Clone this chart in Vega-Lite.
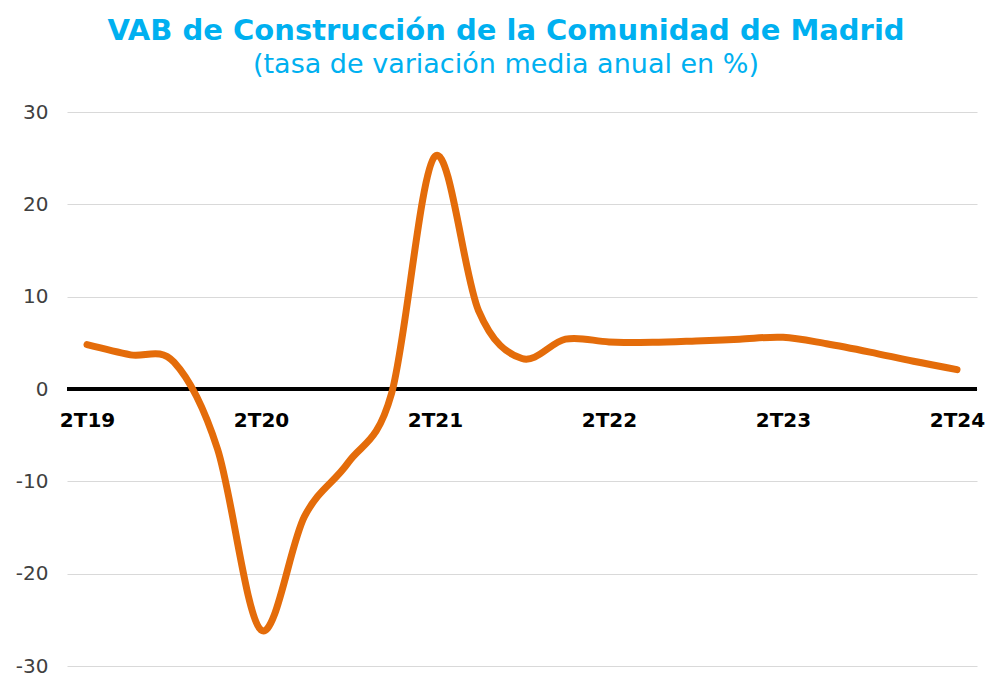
{
  "$schema": "https://vega.github.io/schema/vega-lite/v6.json",
  "width": 910,
  "height": 554,
  "autosize": {"type": "none"},
  "padding": {"left": 67, "top": 112, "right": 16, "bottom": 10},
  "background": "white",
  "title": {
    "text": "VAB de Construcción de la Comunidad de Madrid",
    "subtitle": "(tasa de variación media anual en %)",
    "anchor": "middle",
    "dx": -16,
    "font": "DejaVu Sans",
    "fontSize": 29,
    "fontWeight": "bold",
    "color": "#00B0F0",
    "subtitleFont": "DejaVu Sans",
    "subtitleFontSize": 27,
    "subtitleColor": "#00B0F0",
    "subtitlePadding": 6,
    "offset": 24
  },
  "config": {
    "view": {"stroke": null},
    "axis": {"labelFont": "DejaVu Sans"}
  },
  "data": {
    "values": [
      {"q": "2T19", "v": 4.8},
      {"q": "3T19", "v": 3.7},
      {"q": "4T19", "v": 2.9},
      {"q": "1T20", "v": -6.5},
      {"q": "2T20", "v": -26.1},
      {"q": "3T20", "v": -13.8},
      {"q": "4T20", "v": -8.0},
      {"q": "1T21", "v": -0.5},
      {"q": "2T21", "v": 25.2},
      {"q": "3T21", "v": 8.5},
      {"q": "4T21", "v": 3.3},
      {"q": "1T22", "v": 5.4},
      {"q": "2T22", "v": 5.1},
      {"q": "3T22", "v": 5.05},
      {"q": "4T22", "v": 5.2},
      {"q": "1T23", "v": 5.4},
      {"q": "2T23", "v": 5.6},
      {"q": "3T23", "v": 4.9},
      {"q": "4T23", "v": 4.0},
      {"q": "1T24", "v": 3.0},
      {"q": "2T24", "v": 2.1}
    ]
  },
  "encoding": {
    "y": {
      "field": "v",
      "type": "quantitative",
      "scale": {"domain": [-30, 30], "nice": false},
      "axis": {
        "title": null,
        "values": [-30, -20, -10, 0, 10, 20, 30],
        "grid": true,
        "domain": false,
        "ticks": false,
        "labelPadding": 19,
        "labelFontSize": 20,
        "labelColor": "#404040",
        "labelExpr": "toString(datum.value)",
        "gridColor": "#d9d9d9",
        "gridWidth": 1
      }
    }
  },
  "layer": [
    {
      "mark": {"type": "rule", "color": "black", "strokeWidth": 3.5},
      "encoding": {"y": {"datum": 0, "type": "quantitative"}}
    },
    {
      "mark": {"type": "line", "color": "#E46C0A", "strokeWidth": 7, "interpolate": "cardinal", "strokeCap": "round"},
      "encoding": {
        "x": {
          "field": "q",
          "type": "ordinal",
          "sort": null,
          "scale": {"type": "point", "padding": 0.46},
          "axis": {
            "title": null,
            "domain": false,
            "ticks": false,
            "grid": false,
            "labelAngle": 0,
            "offset": -277,
            "labelPadding": 21,
            "labelFontSize": 20,
            "labelFontWeight": "bold",
            "labelColor": "black",
            "labelExpr": "indexof(datum.value, '2T') === 0 ? datum.value : ''"
          }
        }
      }
    }
  ]
}
